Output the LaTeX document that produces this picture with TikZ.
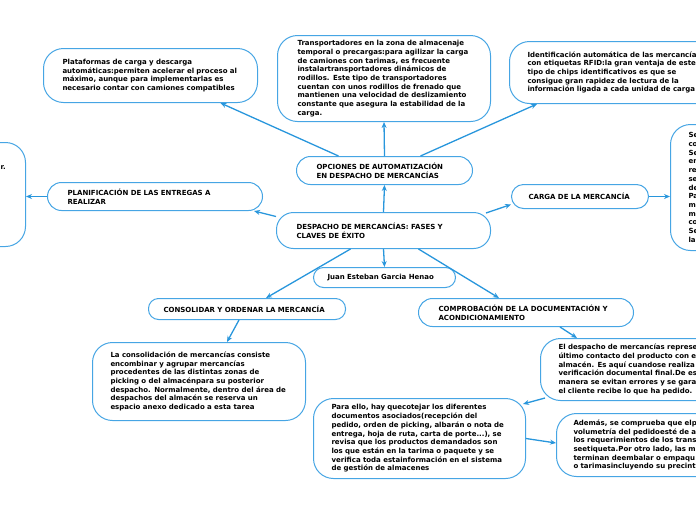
\documentclass[tikz,border=0pt]{standalone}
\usepackage{fontspec}
\setmainfont{DejaVu Sans}
\usetikzlibrary{arrows.meta}
\definecolor{boxblue}{RGB}{70,165,228}
\definecolor{linkblue}{RGB}{40,150,220}
\newcommand\boxtxt{\fontsize{7pt}{8.7pt}\selectfont\bfseries}

\begin{document}
\begin{tikzpicture}[x=1pt,y=-1pt,
  box/.style={draw=boxblue,line width=1pt,fill=white,rounded corners=20pt,
    inner sep=0pt,align=left,font=\boxtxt,anchor=north west},
  link/.style={draw=linkblue,line width=1.3pt,-{Stealth[length=6pt,width=5pt]}}]
\useasboundingbox (0,0) rectangle (696,520);
\clip (0,0) rectangle (696,520);

% centre and the three topics above it
\node[box,rounded corners=17pt,minimum width=214pt,minimum height=36pt,text width=174pt] (main) at (276,212)
  {DESPACHO DE MERCANCÍAS: FASES Y\\CLAVES DE ÉXITO};
\node[box,rounded corners=14pt,minimum width=176pt,minimum height=28pt,text width=136pt] (opc) at (296,156)
  {OPCIONES DE AUTOMATIZACIÓN\\EN DESPACHO DE MERCANCÍAS};
\node[box,minimum width=214pt,minimum height=54pt,text width=176pt] (plat) at (43,48)
  {Plataformas de carga y descarga\\automáticas:permiten acelerar el proceso al\\máximo, aunque para implementarlas es\\necesario contar con camiones compatibles};
\node[box,minimum width=213pt,minimum height=86pt,text width=173pt] (trans) at (277,35)
  {Transportadores en la zona de almacenaje\\temporal o precargas:para agilizar la carga\\de camiones con tarimas, es frecuente\\instalartransportadores dinámicos de\\rodillos. Este tipo de transportadores\\cuentan con unos rodillos de frenado que\\mantienen una velocidad de deslizamiento\\constante que asegura la estabilidad de la\\carga.};
\node[box,minimum width=300pt,minimum height=62pt,text width=264pt] (ident) at (509,41)
  {Identificación automática de las mercancía\\con etiquetas RFID:la gran ventaja de este\\tipo de chips identificativos es que se\\consigue gran rapidez de lectura de la\\información ligada a cada unidad de carga};

% left and right
\node[box,rounded corners=14pt,minimum width=215pt,minimum height=28pt,text width=175pt] (plan) at (47,182)
  {PLANIFICACIÓN DE LAS ENTREGAS A\\REALIZAR};
\node[box,anchor=north east,minimum width=200pt,minimum height=104pt] (leftbox) at (26,142) {};
\node[font=\boxtxt,inner sep=0pt,anchor=north east] (lefttxt) at (6,165) {r.};
\node[box,rounded corners=12pt,minimum width=137pt,minimum height=24pt,text width=103pt] (carga) at (511,184)
  {CARGA DE LA MERCANCÍA};
\node[box,minimum width=300pt,minimum height=126pt,text width=264pt] (rightbox) at (670,124)
  {Se\\co\\Se\\en\\re\\se\\de\\Pa\\m\\m\\co\\Se\\la};

% below
\node[box,rounded corners=10pt,minimum width=142pt,minimum height=20pt,text width=114pt] (juan) at (313,267)
  {Juan Esteban Garcia Henao};
\node[box,rounded corners=10pt,minimum width=197pt,minimum height=21pt,text width=167pt] (cons) at (148,298)
  {CONSOLIDAR Y ORDENAR LA MERCANCÍA};
\node[box,rounded corners=14pt,minimum width=215pt,minimum height=28pt,text width=175pt] (comp) at (418,298)
  {COMPROBACIÓN DE LA DOCUMENTACIÓN Y\\ACONDICIONAMIENTO};
\node[box,minimum width=213pt,minimum height=78pt,text width=177pt] (consol) at (92,342)
  {La consolidación de mercancías consiste\\encombinar y agrupar mercancías\\procedentes de las distintas zonas de\\picking o del almacénpara su posterior\\despacho. Normalmente, dentro del área de\\despachos del almacén se reserva un\\espacio anexo dedicado a esta tarea};
\node[box,minimum width=300pt,minimum height=62pt,text width=264pt] (eldesp) at (540,338)
  {El despacho de mercancías represe\\último contacto del producto con e\\almacén. Es aquí cuandose realiza\\verificación documental final.De es\\manera se evitan errores y se gara\\el cliente recibe lo que ha pedido.};
\node[box,minimum width=212pt,minimum height=80pt,text width=176pt] (para) at (313,398)
  {Para ello, hay quecotejar los diferentes\\documentos asociados(recepción del\\pedido, orden de picking, albarán o nota de\\entrega, hoja de ruta, carta de porte...), se\\revisa que los productos demandados son\\los que están en la tarima o paquete y se\\verifica toda estainformación en el sistema\\de gestión de almacenes};
\node[box,minimum width=300pt,minimum height=63pt,text width=266pt] (ademas) at (556,413)
  {Además, se comprueba que elp\\volumetría del pedidoesté de a\\los requerimientos de los trans\\seetiqueta.Por otro lado, las m\\terminan deembalar o empaqu\\o tarimasincluyendo su precint};

% connectors
\draw[link] (main.north) -- (opc.south);
\draw[link] ([xshift=-46pt]opc.north) -- ([xshift=70pt]plat.south);
\draw[link] (opc.north) -- (trans.south);
\draw[link] ([xshift=36pt]opc.north) -- ([xshift=28pt]ident.south west);
\draw[link] ([yshift=14pt]main.west) -- ([xshift=-9pt]plan.south east);
\draw[link] (plan.west) -- (plan.west -| leftbox.east);
\draw[link] ([xshift=-5pt,yshift=-1pt]main.north east) -- ([yshift=-8pt]carga.west);
\draw[link] (carga.east) -- (carga.east -| rightbox.west);
\draw[link] (main.south) -- (juan.north);
\draw[link] ([xshift=-33pt]main.south) -- ([xshift=19pt]cons.north);
\draw[link] ([xshift=35pt]main.south) -- ([xshift=-27pt]comp.north);
\draw[link] ([xshift=-8pt]cons.south) -- ([xshift=28pt]consol.north);
\draw[link] ([xshift=34pt]comp.south) -- ([xshift=37pt]eldesp.north west);
\draw[link] ([xshift=5pt,yshift=3pt]eldesp.south west) -- ([xshift=-3pt,yshift=-6pt]para.north east);
\draw[link] (para.east) -- ([yshift=2pt]ademas.west);
\end{tikzpicture}
\end{document}
